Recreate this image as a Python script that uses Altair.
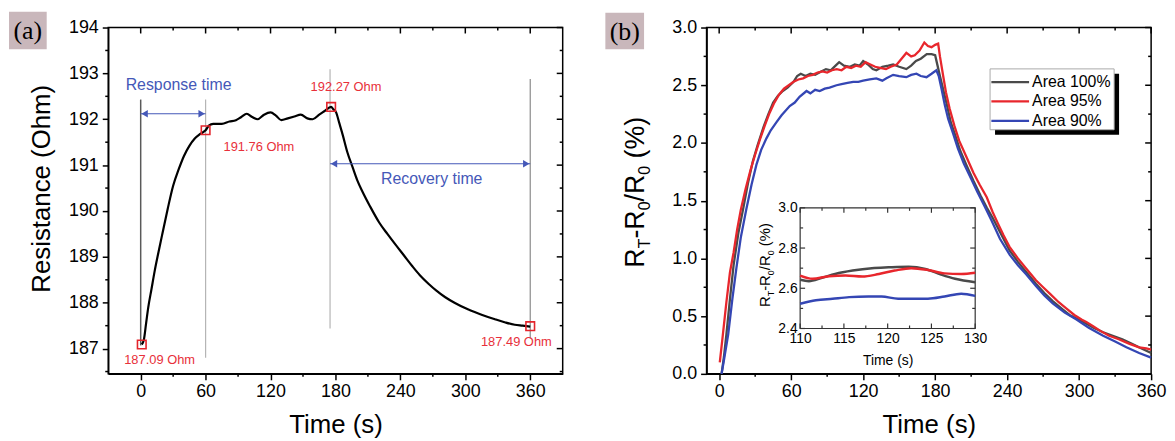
import altair as alt
import pandas as pd

FONT = "Liberation Sans"
SERIF = "Liberation Serif"

# ---------------- data: panel (a) ----------------
a_time = [1, 3, 5, 7, 10, 13, 16, 20, 25, 30, 35, 40, 45, 50, 55, 60, 63, 67, 75, 82,
          88, 93, 98, 103, 108, 114, 120, 125, 130, 136, 142, 148, 154, 159, 165, 170, 176, 178, 180.6, 183.5,
          186.7, 191, 195.9, 200, 205, 212, 220.4, 228, 235.7, 243, 250.9, 258, 266.2, 273, 281.5, 290,
          302.9, 315, 327.4, 337, 345.7, 353, 360]
a_res = [187.09, 187.2, 187.55, 187.9, 188.3, 188.7, 189.05, 189.5, 190.05, 190.55,
         190.9, 191.2, 191.42, 191.58, 191.68, 191.76, 191.86, 191.9, 191.9, 191.95,
         191.98, 192.05, 192.12, 192.05, 192.0, 192.1, 192.15, 192.08, 191.98, 192.02,
         192.06, 192.1, 192.02, 192.0, 192.1, 192.18, 192.27, 192.22, 192.15, 191.92,
         191.66, 191.28, 190.95, 190.68, 190.42, 190.1, 189.75, 189.5, 189.26, 189.04,
         188.8, 188.6, 188.41, 188.27, 188.12, 188.0,
         187.85, 187.74, 187.64, 187.57, 187.52, 187.5, 187.48]
a_mark_t = [1, 60, 176, 360]
a_mark_r = [187.09, 191.76, 192.27, 187.49]
a_mark_lbl = ["187.09 Ohm", "191.76 Ohm", "192.27 Ohm", "187.49 Ohm"]
a_vline_t = [0, 60, 175, 360]
a_vline_top = [192.43, 192.43, 193.09, 192.88]
a_vline_bot = [187.07, 186.8, 187.44, 187.22]
a_arrow_lbl = ["Response time", "Recovery time"]
a_arrow_t1 = [0, 175]
a_arrow_t2 = [60, 360]
a_arrow_r = [192.12, 191.03]
a_arrow_txt_t = [35, 269]
a_arrow_txt_r = [192.75, 190.7]
a_xticks = [0, 60, 120, 180, 240, 300, 360]
a_xminor = [30, 90, 150, 210, 270, 330]
a_yticks = [187, 188, 189, 190, 191, 192, 193, 194]
a_yminor = [186.5, 187.5, 188.5, 189.5, 190.5, 191.5, 192.5, 193.5]

# ---------------- data: panel (b) ----------------
b_names = ["Area 100%", "Area 95%", "Area 90%"]
b100_t = [2, 4, 6, 9, 12, 16, 20, 24, 28, 32, 37, 41, 45, 49, 53, 57, 62, 65, 68, 72,
          76, 80, 85, 89, 93, 97, 100, 104, 109, 113, 117, 120, 124, 128, 131, 136, 141, 145, 150, 156,
          160, 164, 168, 173, 177, 180, 182, 184, 187, 190, 193, 197, 201, 206, 212, 218, 223, 228, 235, 242,
          249, 256, 264, 271, 278, 286, 292, 298, 305, 312, 320, 328, 336, 344, 352, 360]
b100_v = [0.0, 0.15, 0.34, 0.65, 0.94, 1.22, 1.43, 1.65, 1.84, 1.98, 2.14, 2.25, 2.35, 2.41, 2.45, 2.48, 2.53, 2.58, 2.6, 2.58,
          2.6, 2.59, 2.62, 2.64, 2.63, 2.67, 2.7, 2.67, 2.66, 2.68, 2.67, 2.71, 2.68, 2.64, 2.63, 2.66, 2.67, 2.68, 2.66, 2.64,
          2.67, 2.71, 2.73, 2.77, 2.77, 2.76, 2.67, 2.58, 2.45, 2.32, 2.18, 2.06, 1.93, 1.81, 1.67, 1.54, 1.44, 1.35, 1.21, 1.07,
          0.97, 0.88, 0.78, 0.7, 0.63, 0.56, 0.51, 0.48, 0.44, 0.4, 0.36, 0.33, 0.3, 0.26, 0.22, 0.18]
b95_t = [0.5, 3, 6, 9, 12, 15, 18, 22, 26, 30, 34, 38, 42, 46, 50, 54, 58, 62, 66, 70,
         74, 78, 82, 86, 90, 94, 98, 102, 106, 110, 114, 118, 122, 126, 130, 134, 139, 143, 148, 152,
         156, 160, 163, 167, 171, 174, 177, 180, 182.5, 184, 186.7, 189, 192, 196, 200, 206, 212, 217, 223, 228,
         232, 237, 242, 249, 256, 264, 270, 276, 283, 289, 296, 302, 306, 312, 318, 325, 333, 342, 350, 356, 360]
b95_v = [0.1, 0.33, 0.62, 0.88, 1.05, 1.25, 1.42, 1.6, 1.76, 1.9, 2.03, 2.15, 2.26, 2.35, 2.42, 2.47, 2.5, 2.53, 2.55, 2.56,
         2.58, 2.59, 2.61, 2.62, 2.61, 2.63, 2.64, 2.63, 2.66, 2.65, 2.67, 2.66, 2.7, 2.68, 2.66, 2.65, 2.64, 2.66, 2.68, 2.73,
         2.78, 2.75, 2.76, 2.8, 2.87, 2.84, 2.83, 2.85, 2.86, 2.75, 2.58, 2.44, 2.3, 2.15, 2.02, 1.88, 1.74, 1.64, 1.53, 1.4,
         1.31, 1.2, 1.1, 1.0, 0.91, 0.81, 0.75, 0.69, 0.62, 0.57, 0.51, 0.47, 0.45, 0.41, 0.37, 0.33, 0.3, 0.26, 0.23, 0.22, 0.21]
b90_t = [2, 4, 7.5, 11, 14.4, 18, 22.7, 27, 31, 35, 39.4, 43, 47.8, 52, 58.8, 63, 67, 72.8, 76, 80,
         83.8, 88, 92, 97.8, 102, 107, 111.7, 116, 120, 125.5, 131, 136, 139.4, 145, 150, 156, 160, 164.4, 168, 172.8,
         177, 181, 183, 185.3, 188, 190.8, 195, 199, 204, 210, 215, 221.3, 226.9, 234, 242.2, 249, 256, 264, 271, 278,
         288, 297.8, 308, 320, 330, 339.4, 350, 360]
b90_v = [0.0, 0.12, 0.34, 0.65, 0.92, 1.18, 1.43, 1.64, 1.81, 1.94, 2.04, 2.11, 2.18, 2.24, 2.32, 2.35, 2.4, 2.45, 2.43, 2.46,
         2.45, 2.47, 2.48, 2.5, 2.51, 2.52, 2.53, 2.53, 2.54, 2.55, 2.56, 2.54, 2.56, 2.59, 2.58, 2.57, 2.59, 2.6, 2.58, 2.57,
         2.6, 2.63, 2.58, 2.47, 2.33, 2.21, 2.08, 1.95, 1.82, 1.69, 1.58, 1.45, 1.33, 1.17, 1.03, 0.94, 0.86, 0.76, 0.68, 0.61,
         0.53, 0.47, 0.4, 0.33, 0.28, 0.23, 0.18, 0.14]
b_xticks = [0, 60, 120, 180, 240, 300, 360]
b_xminor = [30, 90, 150, 210, 270, 330]
b_yticks = [0.0, 0.5, 1.0, 1.5, 2.0, 2.5, 3.0]
b_yminor = [0.25, 0.75, 1.25, 1.75, 2.25, 2.75]

# inset
i100_t = [110, 111, 112.5, 114, 116, 118.2, 120.1, 122.4, 124.3, 126.1, 127.7, 130]
i100_v = [2.642, 2.635, 2.652, 2.671, 2.688, 2.70, 2.704, 2.707, 2.696, 2.668, 2.647, 2.63]
i95_t = [110, 111.4, 113.3, 115.2, 117.1, 119, 120.8, 122.7, 124.6, 126.5, 128.4, 130]
i95_v = [2.663, 2.647, 2.66, 2.663, 2.658, 2.671, 2.688, 2.70, 2.691, 2.674, 2.671, 2.677]
i90_t = [110, 111.8, 113.7, 115.6, 117.8, 119.3, 121.2, 123.1, 124.6, 126.5, 128.4, 130]
i90_v = [2.523, 2.54, 2.548, 2.556, 2.559, 2.559, 2.548, 2.548, 2.548, 2.559, 2.573, 2.562]
i_xticks = [110, 115, 120, 125, 130]
i_xminor = [112.5, 117.5, 122.5, 127.5]
i_yticks = [2.4, 2.6, 2.8, 3.0]
i_yminor = [2.5, 2.7, 2.9]

# ---------------- styles / layout ----------------
W_A, H_A = 458, 349
W_B, H_B = 448, 349
C_GREY, C_RED, C_BLUE = "#4a4a4a", "#e8262c", "#3446b4"
b_colors = [C_GREY, C_RED, C_BLUE]
LBL_RED = "#e8303a"
ARROW_BLUE = "#4558b8"
BOX_FILL = "#c9b7bb"
one = pd.DataFrame({"k": [0]})

axis_common = dict(labelFont=FONT, labelFontSize=18, labelColor="black",
                   titleFont=FONT, titleFontSize=26, titleFontWeight="normal", titleColor="black",
                   domainColor="black", domainWidth=1.5, tickColor="black", tickWidth=1.5,
                   tickSize=6, labelFlush=False, labelOverlap=False, grid=False)

xa_scale = alt.Scale(domain=[-30, 390], nice=False, zero=False)
ya_scale = alt.Scale(domain=[186.45, 194], nice=False, zero=False)
xa_axis = alt.Axis(values=a_xticks, title="Time (s)", titleBaseline="alphabetic", titleY=59,
                   labelPadding=3, **axis_common)
ya_axis = alt.Axis(values=a_yticks, title="Resistance (Ohm)", titleAngle=270, titleBaseline="alphabetic",
                   titleX=-59, titleY=162, labelPadding=4, format="d", **axis_common)


def XA(f):
    return alt.X(f, type="quantitative", scale=xa_scale, axis=xa_axis)


def YA(f):
    return alt.Y(f, type="quantitative", scale=ya_scale, axis=ya_axis)


xb_scale = alt.Scale(domain=[-10.5, 360], nice=False, zero=False)
yb_scale = alt.Scale(domain=[0, 3], nice=False, zero=False)
xb_axis = alt.Axis(values=b_xticks, title="Time (s)", titleBaseline="alphabetic", titleY=59,
                   labelPadding=3, **axis_common)
yb_axis = alt.Axis(values=b_yticks, title=None, format=".1f", labelPadding=4, **axis_common)


def XB(f):
    return alt.X(f, type="quantitative", scale=xb_scale, axis=xb_axis)


def YB(f):
    return alt.Y(f, type="quantitative", scale=yb_scale, axis=yb_axis)


IX0, IX1, IY0, IY1 = 94.3, 270.7, 303.3, 181.7
xi_scale = alt.Scale(domain=[110, 130], range=[IX0, IX1], nice=False, zero=False)
yi_scale = alt.Scale(domain=[2.4, 3.0], range=[IY0, IY1], nice=False, zero=False)
inset_axis = dict(labelFont=FONT, labelFontSize=14, labelColor="black", titleFont=FONT,
                  titleFontSize=14, titleFontWeight="normal", titleColor="black",
                  ticks=False, domain=False, grid=False, labelFlush=False, labelOverlap=False)
xi_axis = alt.Axis(values=i_xticks, orient="bottom", offset=-(H_B - IY0), labelPadding=3,
                   title="Time (s)", titleBaseline="alphabetic", titleY=36, **inset_axis)
yi_axis = alt.Axis(values=i_yticks, orient="left", offset=-IX0, labelPadding=3, format=".1f",
                   title=None, **inset_axis)


def XI(f=None, datum=None):
    if datum is not None:
        return alt.X(datum=datum, type="quantitative", scale=xi_scale, axis=xi_axis)
    return alt.X(f, type="quantitative", scale=xi_scale, axis=xi_axis)


def YI(f=None, datum=None):
    if datum is not None:
        return alt.Y(datum=datum, type="quantitative", scale=yi_scale, axis=yi_axis)
    return alt.Y(f, type="quantitative", scale=yi_scale, axis=yi_axis)


def frame_ticks(X, Y, W, H, xmaj, xmin, ymaj, ymin, L=6, l=3):
    dxM = pd.DataFrame({"v": xmaj})
    dxm = pd.DataFrame({"v": xmin})
    dyM = pd.DataFrame({"v": ymaj})
    dym = pd.DataFrame({"v": ymin})
    rk = dict(color="black", strokeWidth=1.5)
    return [
        alt.Chart(dxM).mark_rule(**rk).encode(x=X("v"), y=alt.value(0), y2=alt.value(L)),
        alt.Chart(dxm).mark_rule(**rk).encode(x=X("v"), y=alt.value(0), y2=alt.value(l)),
        alt.Chart(dxm).mark_rule(**rk).encode(x=X("v"), y=alt.value(H), y2=alt.value(H + l)),
        alt.Chart(dyM).mark_rule(**rk).encode(y=Y("v"), x=alt.value(W - L), x2=alt.value(W)),
        alt.Chart(dym).mark_rule(**rk).encode(y=Y("v"), x=alt.value(W - l), x2=alt.value(W)),
        alt.Chart(dym).mark_rule(**rk).encode(y=Y("v"), x=alt.value(-l), x2=alt.value(0)),
    ]


def panel_label(txt, x0, x1, y0, y1):
    return [
        alt.Chart(one).mark_rect(fill=BOX_FILL).encode(
            x=alt.value(x0), x2=alt.value(x1), y=alt.value(y0), y2=alt.value(y1)),
        alt.Chart(one).mark_text(text=txt, font=SERIF, fontSize=26, color="black",
                                 align="center", baseline="middle").encode(
            x=alt.value((x0 + x1) / 2), y=alt.value((y0 + y1) / 2 + 1)),
    ]


AW = {"R": 0.722, "T": 0.611, "-": 0.333, "0": 0.556, "/": 0.278, "(": 0.333, "%": 0.889, ")": 0.333, " ": 0.278}


def rotated_title(start_y, base_x, sub_x, big, small):
    segs = [("R", 0), ("T", 1), ("-R", 0), ("0", 1), ("/R", 0), ("0", 1), (" (%)", 0)]
    out = []
    y = start_y
    for txt, sub in segs:
        fs = small if sub else big
        if txt.startswith(" "):
            y -= AW[" "] * fs
            txt = txt.strip()
        out.append(alt.Chart(one).mark_text(text=txt, angle=270, align="left", baseline="alphabetic",
                                            font=FONT, fontSize=fs, color="black").encode(
            x=alt.value(sub_x if sub else base_x), y=alt.value(y)))
        y -= sum(AW[c] for c in txt) * fs
    return out


# ---------------- panel (a) ----------------
df_a = pd.DataFrame({"t": a_time, "r": a_res})
vl_colors = ["#5a5a5a", "#b5b5b5", "#b5b5b5", "#8a8a8a"]
layers_a = []
for i in range(len(a_vline_t)):
    dv = pd.DataFrame({"t": [a_vline_t[i]], "r1": [a_vline_top[i]], "r2": [a_vline_bot[i]]})
    layers_a.append(alt.Chart(dv).mark_rule(color=vl_colors[i], strokeWidth=1.5 if i == 0 else 1.2).encode(
        x=XA("t"), y=YA("r1"), y2="r2"))
layers_a.append(alt.Chart(df_a).mark_line(color="black", strokeWidth=2.2, interpolate="monotone").encode(
    x=XA("t"), y=YA("r")))
df_m = pd.DataFrame({"t": a_mark_t, "r": a_mark_r, "lbl": a_mark_lbl})
layers_a.append(alt.Chart(df_m).mark_point(shape="square", filled=False, color="#e3242b", strokeWidth=1.6,
                                           size=75, opacity=1).encode(x=XA("t"), y=YA("r")))
lbl_off = [(18, 16, "center"), (18, 17, "left"), (15, -20, "center"), (-14, 16, "center")]
for i in range(len(a_mark_t)):
    dx, dy, al = lbl_off[i]
    layers_a.append(alt.Chart(df_m.iloc[[i]]).mark_text(font=FONT, fontSize=13, color=LBL_RED, align=al,
                                                         baseline="middle", dx=dx, dy=dy).encode(
        x=XA("t"), y=YA("r"), text="lbl:N"))
df_ar = pd.DataFrame({"t1": a_arrow_t1, "t2": a_arrow_t2, "r": a_arrow_r})
layers_a.append(alt.Chart(df_ar).mark_rule(color=ARROW_BLUE, strokeWidth=1.2).encode(
    x=XA("t1"), x2="t2", y=YA("r")))
layers_a.append(alt.Chart(df_ar).mark_point(shape="triangle-left", filled=True, color=ARROW_BLUE,
                                            size=55, opacity=1).encode(
    x=XA("t1"), y=YA("r"), xOffset=alt.value(4)))
layers_a.append(alt.Chart(df_ar).mark_point(shape="triangle-right", filled=True, color=ARROW_BLUE,
                                            size=55, opacity=1).encode(
    x=XA("t2"), y=YA("r"), xOffset=alt.value(-4)))
df_at = pd.DataFrame({"t": a_arrow_txt_t, "r": a_arrow_txt_r, "lbl": a_arrow_lbl})
layers_a.append(alt.Chart(df_at).mark_text(font=FONT, fontSize=16, color=ARROW_BLUE, align="center",
                                           baseline="middle").encode(x=XA("t"), y=YA("r"), text="lbl:N"))
layers_a += frame_ticks(XA, YA, W_A, H_A, a_xticks, a_xminor, a_yticks, a_yminor)
layers_a += panel_label("(a)", -100, -62, -16, 22)
panel_a = alt.layer(*layers_a).properties(width=W_A, height=H_A)

# ---------------- panel (b) ----------------
main_layers = []
for t, v, c in [(b100_t, b100_v, C_GREY), (b95_t, b95_v, C_RED), (b90_t, b90_v, C_BLUE)]:
    main_layers.append(alt.Chart(pd.DataFrame({"t": t, "v": v})).mark_line(color=c, strokeWidth=2.3).encode(
        x=XB("t"), y=YB("v")))
main_layers += frame_ticks(XB, YB, W_B, H_B, b_xticks, b_xminor, b_yticks, b_yminor)
LX0, LX1, LY0, LY1 = 285.7, 410.7, 41.7, 103
main_layers.append(alt.Chart(one).mark_rect(fill="black").encode(
    x=alt.value(LX0 + 5), x2=alt.value(LX1 + 5), y=alt.value(LY0 + 5), y2=alt.value(LY1 + 5)))
main_layers.append(alt.Chart(one).mark_rect(fill="white", stroke="#aaaaaa", strokeWidth=1).encode(
    x=alt.value(LX0), x2=alt.value(LX1), y=alt.value(LY0), y2=alt.value(LY1)))
for i, name in enumerate(b_names):
    yy = 55 + 19.5 * i
    main_layers.append(alt.Chart(one).mark_rule(color=b_colors[i], strokeWidth=2.3).encode(
        x=alt.value(287), x2=alt.value(325), y=alt.value(yy)))
    main_layers.append(alt.Chart(pd.DataFrame({"n": [name]})).mark_text(
        font=FONT, fontSize=16, color="black", align="left", baseline="middle").encode(
        x=alt.value(328), y=alt.value(yy), text="n:N"))
main_layers += rotated_title(242, -63, -57, 27, 16)
main_layers += panel_label("(b)", -102, -63, -15, 22)
main_group = alt.layer(*main_layers)

inset_layers = [alt.Chart(one).mark_rect(fill="white", stroke="#333333", strokeWidth=1.2).encode(
    x=XI(datum=110), x2=alt.X2(datum=130), y=YI(datum=2.4), y2=alt.Y2(datum=3.0))]
for t, v, c in [(i100_t, i100_v, C_GREY), (i95_t, i95_v, C_RED), (i90_t, i90_v, C_BLUE)]:
    inset_layers.append(alt.Chart(pd.DataFrame({"t": t, "v": v})).mark_line(
        color=c, strokeWidth=2.5, interpolate="monotone").encode(x=XI("t"), y=YI("v")))
kx = 20 / (IX1 - IX0)
ky = 0.6 / (IY0 - IY1)
rk = dict(color="#333333", strokeWidth=1.2)
for vals, L in [(i_xticks, 5), (i_xminor, 3)]:
    d = pd.DataFrame({"v": vals, "a": [2.4] * len(vals), "b": [2.4 + L * ky] * len(vals),
                      "c": [3.0] * len(vals), "e": [3.0 - L * ky] * len(vals)})
    inset_layers.append(alt.Chart(d).mark_rule(**rk).encode(x=XI("v"), y=YI("a"), y2="b"))
    inset_layers.append(alt.Chart(d).mark_rule(**rk).encode(x=XI("v"), y=YI("c"), y2="e"))
for vals, L in [(i_yticks, 5), (i_yminor, 3)]:
    d = pd.DataFrame({"v": vals, "a": [110] * len(vals), "b": [110 + L * kx] * len(vals),
                      "c": [130] * len(vals), "e": [130 - L * kx] * len(vals)})
    inset_layers.append(alt.Chart(d).mark_rule(**rk).encode(y=YI("v"), x=XI("a"), x2="b"))
    inset_layers.append(alt.Chart(d).mark_rule(**rk).encode(y=YI("v"), x=XI("c"), x2="e"))
inset_layers += rotated_title(281.7, 64, 67.5, 15, 9)
inset_group = alt.layer(*inset_layers)

panel_b = alt.layer(main_group, inset_group).resolve_scale(
    x="independent", y="independent").properties(width=W_B, height=H_B)

chart = alt.hconcat(panel_a, panel_b, spacing=145, bounds="flush").configure_view(
    stroke="black", strokeWidth=1.5).properties(
    padding={"left": 0, "top": 1, "right": 0, "bottom": 0}, background="white")

chart.save("out.html", embed_options={"renderer": "svg", "actions": False})
